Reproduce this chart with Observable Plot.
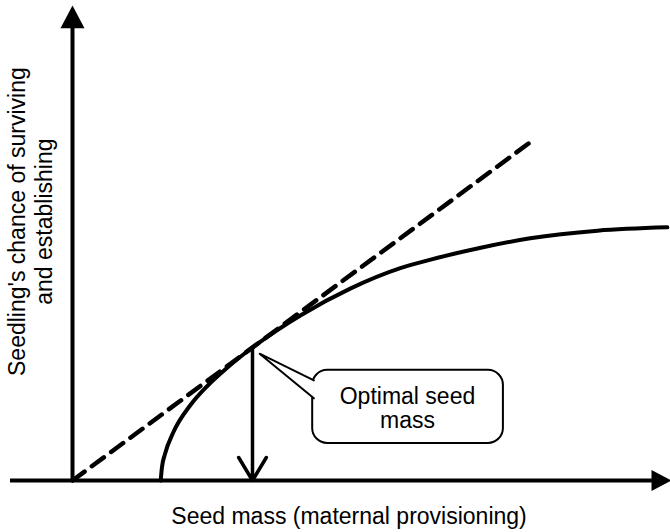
<!DOCTYPE html>
<html>
<head>
<meta charset="utf-8">
<script src="https://cdn.jsdelivr.net/npm/d3@7"></script>
<script src="https://cdn.jsdelivr.net/npm/@observablehq/plot@0.6"></script>
<style>
  html, body { margin: 0; padding: 0; background: #fff; }
  #chart svg { display: block; }
</style>
</head>
<body>
<div id="chart"></div>
<script>
// Fitness curve: seedling success vs seed mass (abstract units 0..10)
const curveX = [1.48, 1.50, 1.55, 1.69, 1.98, 2.27, 2.60, 3.02, 3.83, 4.66, 5.50, 6.01, 6.85, 7.68, 8.81, 9.98];
const curveY = [0.00, 0.27, 0.55, 1.01, 1.59, 2.00, 2.38, 2.80, 3.48, 4.04, 4.47, 4.65, 4.90, 5.10, 5.26, 5.33];

// Tangent (dashed) line from origin
const tangentX = [0, 7.70];
const tangentY = [0, 7.14];

// Optimal seed mass (tangent point)
const optimum = {x: 3.02, y: 2.80};

// Axes extents
const xAxisStart = -1.04, xAxisEnd = 9.73, xAxisTip = 10.05;
const yAxisEnd = 9.52, yAxisTip = 10;

// Callout box and pointer
const calloutBox = {x1: 4.03, x2: 7.23, y1: 0.78, y2: 2.32};
const pointerX = [4.05, 3.14, 4.05];
const pointerY = [2.11, 2.67, 1.73];
const calloutText = {x: 5.62, y: 1.52, text: "Optimal seed\nmass"};

// Axis labels
const xLabel = {x: 4.64, y: -0.75, text: "Seed mass (maternal provisioning)"};
const yLabel = {x: -0.72, y: 5.45, text: "Seedling's chance of surviving\nand establishing"};

const curve = curveX.map((x, i) => ({x, y: curveY[i]}));
const tangent = tangentX.map((x, i) => ({x, y: tangentY[i]}));
const pointer = pointerX.map((x, i) => ({x, y: pointerY[i]}));

const arrowUp = {
  draw(ctx, size) {
    const r = Math.sqrt(size / Math.PI);
    ctx.moveTo(0, 0);
    ctx.lineTo(-r, 1.9 * r);
    ctx.lineTo(r, 1.9 * r);
    ctx.closePath();
  }
};
const arrowRight = {
  draw(ctx, size) {
    const r = Math.sqrt(size / Math.PI);
    ctx.moveTo(0, 0);
    ctx.lineTo(-1.9 * r, -r);
    ctx.lineTo(-1.9 * r, r);
    ctx.closePath();
  }
};

const font = "'Liberation Sans', Arial, Helvetica, sans-serif";

const chart = Plot.plot({
  width: 670,
  height: 532,
  marginLeft: 72,
  marginRight: 2,
  marginTop: 5,
  marginBottom: 52,
  style: {fontFamily: font, background: "#fff", color: "black"},
  x: {domain: [0, 10], axis: null},
  y: {domain: [0, 10], axis: null},
  marks: [
    // axes
    Plot.ruleY([0], {x1: xAxisStart, x2: xAxisEnd, stroke: "black", strokeWidth: 4}),
    Plot.ruleX([0], {y1: 0, y2: yAxisEnd, stroke: "black", strokeWidth: 4}),
    Plot.dot([{x: 0, y: yAxisTip}], {x: "x", y: "y", symbol: arrowUp, r: 12, fill: "black", stroke: "none"}),
    Plot.dot([{x: xAxisTip, y: 0}], {x: "x", y: "y", symbol: arrowRight, r: 10.5, fill: "black", stroke: "none"}),
    // tangent dashed line
    Plot.line(tangent, {x: "x", y: "y", stroke: "black", strokeWidth: 4.5, strokeDasharray: "15,9"}),
    // fitness curve
    Plot.line(curve, {x: "x", y: "y", stroke: "black", strokeWidth: 4, curve: "monotone-x"}),
    // optimum arrow down to x axis
    Plot.arrow([optimum], {x1: "x", y1: "y", x2: "x", y2: 0, stroke: "black", strokeWidth: 3.5, headLength: 11.5, headAngle: 62}),
    // callout
    Plot.rect([calloutBox], {x1: "x1", x2: "x2", y1: "y1", y2: "y2", rx: 15, ry: 15, fill: "white", stroke: "black", strokeWidth: 2}),
    Plot.line(pointer, {x: "x", y: "y", fill: "white", stroke: "black", strokeWidth: 2, curve: "linear"}),
    Plot.text([calloutText], {x: "x", y: "y", text: "text", fontSize: 23, lineHeight: 1.04, fill: "black", fontFamily: font}),
    // axis labels
    Plot.text([xLabel], {x: "x", y: "y", text: "text", fontSize: 23, fill: "black", fontFamily: font}),
    Plot.text([yLabel], {x: "x", y: "y", text: "text", fontSize: 23, lineHeight: 1.17, rotate: -90, fill: "black", fontFamily: font})
  ]
});

document.getElementById("chart").appendChild(chart);
</script>
</body>
</html>
